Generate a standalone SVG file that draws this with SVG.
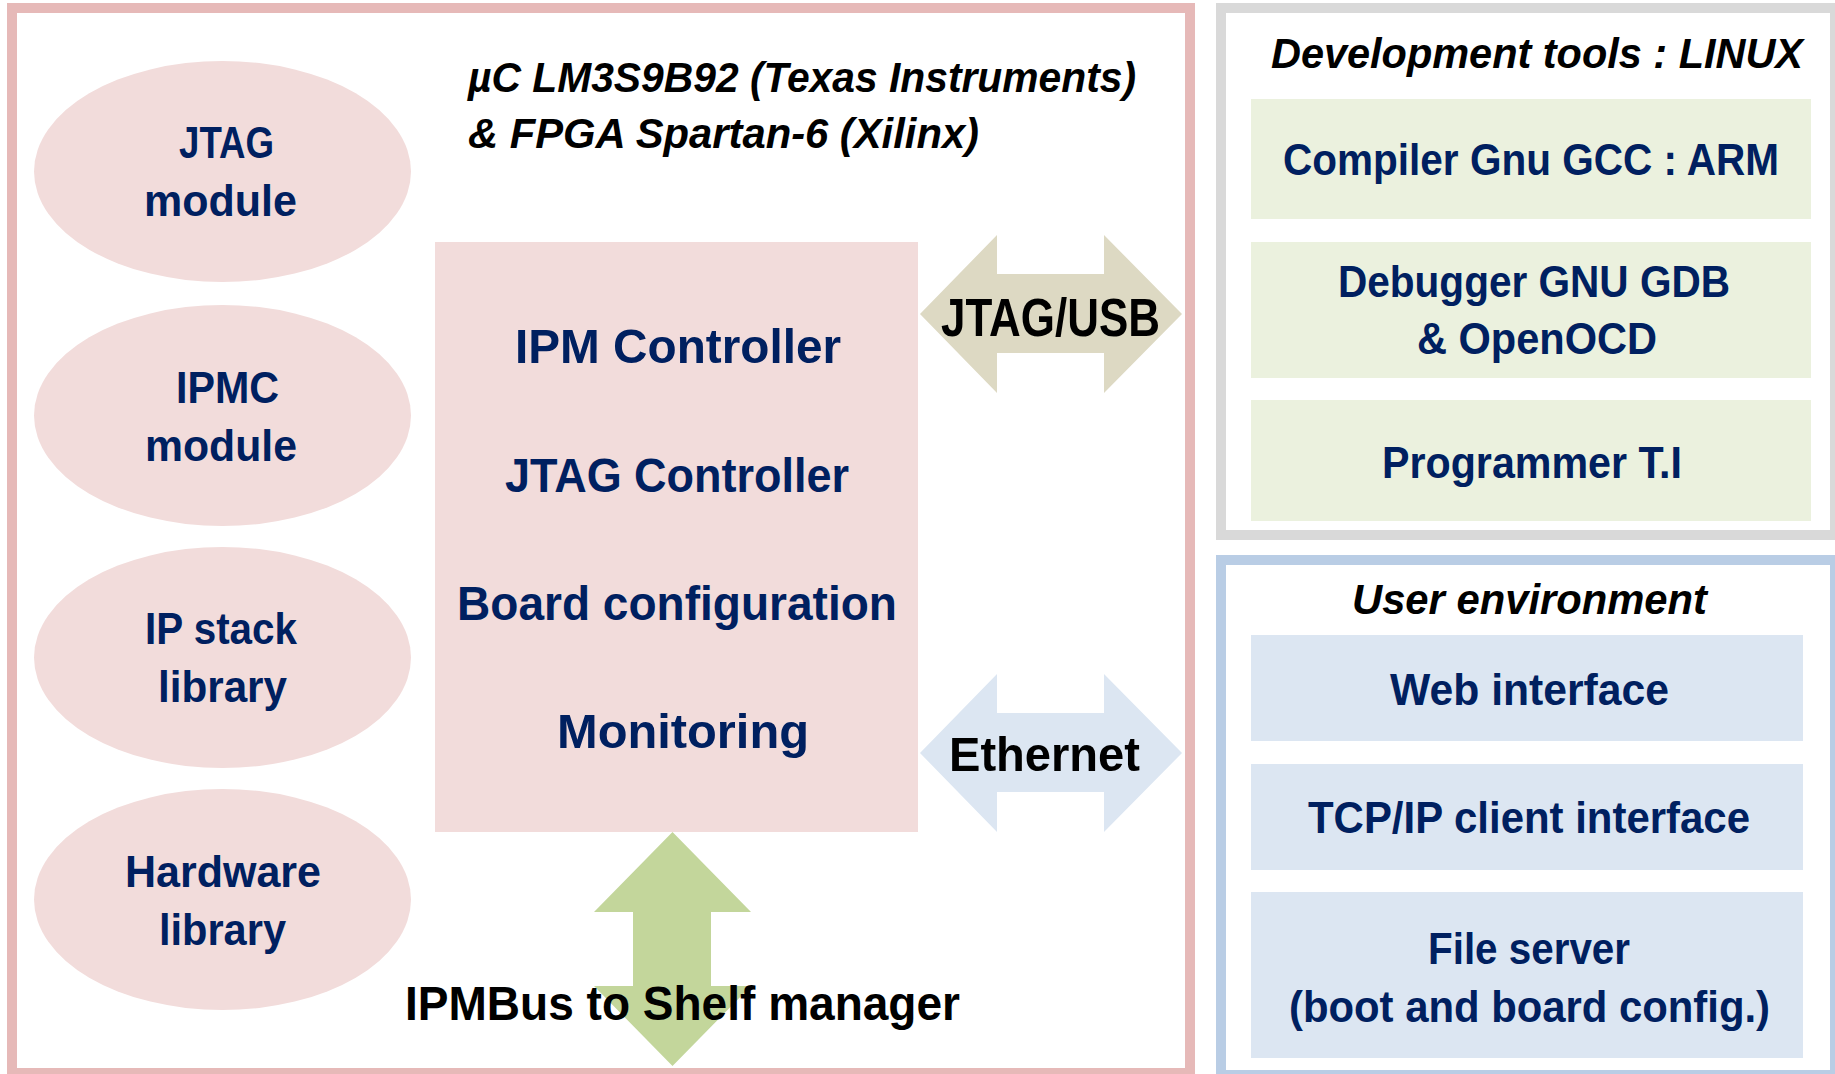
<svg xmlns="http://www.w3.org/2000/svg" width="1835" height="1074" viewBox="0 0 1835 1074">
<style>
text{font-family:"Liberation Sans",Arial,sans-serif;font-weight:bold}
.nv{fill:#002060}
.bk{fill:#000000}
.it{font-style:italic;font-size:42px}
.el{font-size:44px}
.ct{font-size:49px}
.bx{font-size:44px}
.lb{font-size:49px}
.ell{fill:#F2DCDB}
</style>
<rect width="1835" height="1074" fill="#ffffff"/>
<g id="fpga-frame">
<rect x="12" y="8" width="1178" height="1065" fill="#ffffff" stroke="#E6B9B8" stroke-width="10"/>
<text class="bk it" x="468" y="92" textLength="668" lengthAdjust="spacingAndGlyphs">µC LM3S9B92 (Texas Instruments)</text>
<text class="bk it" x="468" y="148" textLength="511" lengthAdjust="spacingAndGlyphs">&amp; FPGA Spartan-6 (Xilinx)</text>
</g>
<g id="dev-tools">
<rect x="1221" y="8" width="614" height="527" fill="#ffffff" stroke="#D9D9D9" stroke-width="10"/>
<text class="bk it" x="1271" y="68" textLength="532" lengthAdjust="spacingAndGlyphs">Development tools : LINUX</text>
</g>
<g id="user-env">
<rect x="1221" y="560" width="614" height="515" fill="#ffffff" stroke="#B9CDE5" stroke-width="10"/>
<text class="bk it" x="1352" y="614" textLength="355" lengthAdjust="spacingAndGlyphs">User environment</text>
</g>
<g id="jtag-module">
<ellipse class="ell" cx="222.5" cy="171.5" rx="188.5" ry="110.5"/>
<text class="nv el" x="179" y="158" textLength="95" lengthAdjust="spacingAndGlyphs">JTAG</text>
<text class="nv el" x="144" y="216" textLength="153" lengthAdjust="spacingAndGlyphs">module</text>
</g>
<g id="ipmc-module">
<ellipse class="ell" cx="222.5" cy="415.5" rx="188.5" ry="110.5"/>
<text class="nv el" x="176" y="403" textLength="103" lengthAdjust="spacingAndGlyphs">IPMC</text>
<text class="nv el" x="145" y="461" textLength="152" lengthAdjust="spacingAndGlyphs">module</text>
</g>
<g id="ip-stack">
<ellipse class="ell" cx="222.5" cy="657.5" rx="188.5" ry="110.5"/>
<text class="nv el" x="145" y="644" textLength="152" lengthAdjust="spacingAndGlyphs">IP stack</text>
<text class="nv el" x="158" y="702" textLength="129" lengthAdjust="spacingAndGlyphs">library</text>
</g>
<g id="hardware-library">
<ellipse class="ell" cx="222.5" cy="899.5" rx="188.5" ry="110.5"/>
<text class="nv el" x="125" y="887" textLength="196" lengthAdjust="spacingAndGlyphs">Hardware</text>
<text class="nv el" x="159" y="945" textLength="127" lengthAdjust="spacingAndGlyphs">library</text>
</g>
<g id="controller">
<rect x="435" y="242" width="483" height="590" fill="#F2DCDB"/>
<text class="nv ct" x="515" y="363" textLength="326" lengthAdjust="spacingAndGlyphs">IPM Controller</text>
<text class="nv ct" x="505" y="492" textLength="344" lengthAdjust="spacingAndGlyphs">JTAG Controller</text>
<text class="nv ct" x="457" y="620" textLength="440" lengthAdjust="spacingAndGlyphs">Board configuration</text>
<text class="nv ct" x="557" y="748" textLength="252" lengthAdjust="spacingAndGlyphs">Monitoring</text>
</g>
<g id="compiler">
<rect x="1251" y="99" width="560" height="120" fill="#EBF1DE"/>
<text class="nv bx" x="1283" y="175" textLength="496" lengthAdjust="spacingAndGlyphs">Compiler Gnu GCC : ARM</text>
</g>
<g id="debugger">
<rect x="1251" y="242" width="560" height="136" fill="#EBF1DE"/>
<text class="nv bx" x="1338" y="297" textLength="392" lengthAdjust="spacingAndGlyphs">Debugger GNU GDB</text>
<text class="nv bx" x="1417" y="354" textLength="240" lengthAdjust="spacingAndGlyphs">&amp; OpenOCD</text>
</g>
<g id="programmer">
<rect x="1251" y="400" width="560" height="121" fill="#EBF1DE"/>
<text class="nv bx" x="1382" y="478" textLength="300" lengthAdjust="spacingAndGlyphs">Programmer T.I</text>
</g>
<g id="web-interface">
<rect x="1251" y="635" width="552" height="106" fill="#DCE6F2"/>
<text class="nv bx" x="1390" y="705" textLength="279" lengthAdjust="spacingAndGlyphs">Web interface</text>
</g>
<g id="tcp-client">
<rect x="1251" y="764" width="552" height="106" fill="#DCE6F2"/>
<text class="nv bx" x="1308" y="833" textLength="442" lengthAdjust="spacingAndGlyphs">TCP/IP client interface</text>
</g>
<g id="file-server">
<rect x="1251" y="892" width="552" height="166" fill="#DCE6F2"/>
<text class="nv bx" x="1428" y="964" textLength="202" lengthAdjust="spacingAndGlyphs">File server</text>
<text class="nv bx" x="1289" y="1022" textLength="481" lengthAdjust="spacingAndGlyphs">(boot and board config.)</text>
</g>
<g id="connectors">
<polygon points="920,314 997,235 997,274 1104,274 1104,235 1182,314 1104,393 1104,353 997,353 997,393" fill="#DDD9C3"/>
<text class="bk lb" x="941" y="336" textLength="219" lengthAdjust="spacingAndGlyphs" style="font-size:53px">JTAG/USB</text>
<polygon points="920,753 997,674 997,713 1104,713 1104,674 1182,753 1104,832 1104,792 997,792 997,832" fill="#DCE6F2"/>
<text class="bk lb" x="949" y="771" textLength="191" lengthAdjust="spacingAndGlyphs">Ethernet</text>
<polygon points="672.5,832 751,912 711,912 711,986 751,986 672.5,1066 594,986 633,986 633,912 594,912" fill="#C3D69B"/>
<text class="bk lb" x="405" y="1020" textLength="555" lengthAdjust="spacingAndGlyphs">IPMBus to Shelf manager</text>
</g>
</svg>
